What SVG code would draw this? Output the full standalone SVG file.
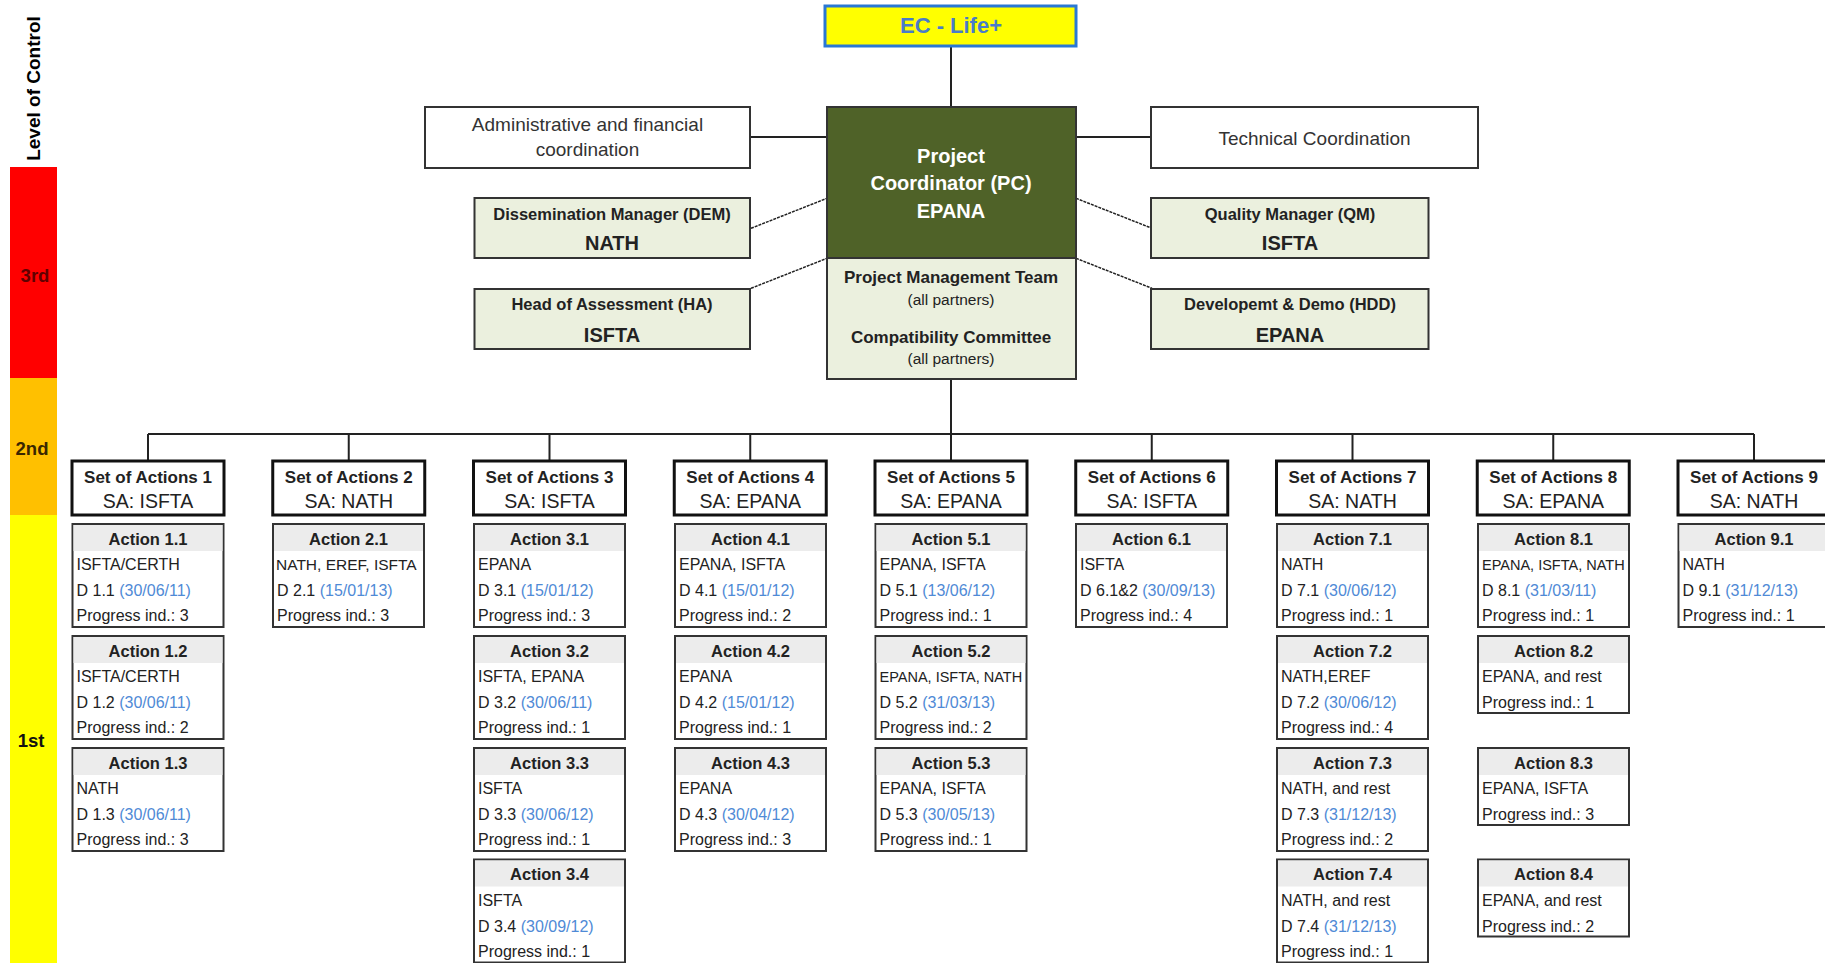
<svg xmlns="http://www.w3.org/2000/svg" width="1825" height="963" viewBox="0 0 1825 963">
<style>
text{font-family:"Liberation Sans",Arial,sans-serif;fill:#222}
.bx{fill:#fff;stroke:#333;stroke-width:2}
.gb{fill:#ebf0de;stroke:#333;stroke-width:2}
.sa{fill:#fff;stroke:#111;stroke-width:3}
.ab{fill:#fff;stroke:#333;stroke-width:2}
.ah{fill:#ececec}
.cn{stroke:#222;stroke-width:2;fill:none}
.dl{stroke:#222;stroke-width:1.5;stroke-dasharray:3 1;fill:none}
.at{font-size:16.5px;font-weight:bold;text-anchor:middle}
.al{font-size:16px}
.sm{font-size:14.5px}
.dt{fill:#4f8ad6}
.st{font-size:17px;font-weight:bold;text-anchor:middle}
.ss{font-size:19.5px;text-anchor:middle}
.tt{font-size:19px;text-anchor:middle;fill:#333}
.gt{font-size:16.5px;font-weight:bold;text-anchor:middle}
.gn{font-size:20px;font-weight:bold;text-anchor:middle}
.pc{font-size:20px;font-weight:bold;text-anchor:middle;fill:#fff}
.pm{font-size:17px;font-weight:bold;text-anchor:middle}
.pp{font-size:15.5px;text-anchor:middle}
.lv{font-size:18.5px;font-weight:bold;text-anchor:middle}
</style>
<g id="level-bar">
<text class="lv" transform="translate(40,88.5) rotate(-90)" style="font-size:19px;fill:#000">Level of Control</text>
<rect x="10" y="167" width="47" height="211" fill="#ff0000"/>
<rect x="10" y="378" width="47" height="137" fill="#ffc000"/>
<rect x="10" y="515" width="47" height="448" fill="#ffff00"/>
<text class="lv" x="35" y="281.7" style="fill:#600000">3rd</text>
<text class="lv" x="32" y="455" style="fill:#3a2600">2nd</text>
<text class="lv" x="31" y="746.7" style="fill:#111">1st</text>
</g>
<g id="connectors">
<line class="cn" x1="951" y1="46" x2="951" y2="107"/>
<line class="cn" x1="750" y1="137" x2="827" y2="137"/>
<line class="cn" x1="1076" y1="137" x2="1151" y2="137"/>
<line class="dl" x1="751" y1="228.3" x2="827" y2="198.3"/>
<line class="dl" x1="751" y1="288.3" x2="827" y2="258.3"/>
<line class="dl" x1="1076" y1="198.3" x2="1152" y2="228.3"/>
<line class="dl" x1="1076" y1="258.3" x2="1152" y2="288.3"/>
<line class="cn" x1="951" y1="379" x2="951" y2="434"/>
<line class="cn" x1="148" y1="434" x2="1754" y2="434"/>
<path class="cn" d="M148 434V461M348.75 434V461M549.5 434V461M750.25 434V461M951 434V461M1151.75 434V461M1352.5 434V461M1553.25 434V461M1754 434V461"/>
</g>
<g id="ec-life">
<rect x="825" y="6" width="251" height="40" fill="#ffff00" stroke="#2a78d4" stroke-width="3"/>
<text x="951" y="33.3" style="font-size:22px;font-weight:bold;text-anchor:middle;fill:#4a7cc8">EC - Life+</text>
</g>
<g id="admin">
<rect class="bx" x="425" y="107" width="325" height="61"/>
<text class="tt" x="587.5" y="131">Administrative and financial</text>
<text class="tt" x="587.5" y="156">coordination</text>
</g>
<g id="technical">
<rect class="bx" x="1151" y="107" width="327" height="61"/>
<text class="tt" x="1314.5" y="144.5">Technical Coordination</text>
</g>
<g id="pc">
<rect x="827" y="107" width="249" height="151" fill="#4f6228" stroke="#333" stroke-width="2"/>
<text class="pc" x="951" y="163">Project</text>
<text class="pc" x="951" y="190">Coordinator (PC)</text>
<text class="pc" x="951" y="218.3">EPANA</text>
</g>
<g id="pmt">
<rect class="gb" x="827" y="258" width="249" height="121"/>
<text class="pm" x="951" y="283.3">Project Management Team</text>
<text class="pp" x="951" y="305">(all partners)</text>
<text class="pm" x="951" y="342.7">Compatibility Committee</text>
<text class="pp" x="951" y="363.5">(all partners)</text>
</g>
<g id="dem">
<rect class="gb" x="474.5" y="198" width="275.5" height="60"/>
<text class="gt" x="612" y="220">Dissemination Manager (DEM)</text>
<text class="gn" x="612" y="250">NATH</text>
</g>
<g id="ha">
<rect class="gb" x="474.5" y="289" width="275.5" height="60"/>
<text class="gt" x="612" y="310">Head of Assessment (HA)</text>
<text class="gn" x="612" y="341.7">ISFTA</text>
</g>
<g id="qm">
<rect class="gb" x="1151" y="198" width="277.5" height="60"/>
<text class="gt" x="1290" y="220">Quality Manager (QM)</text>
<text class="gn" x="1290" y="250">ISFTA</text>
</g>
<g id="hdd">
<rect class="gb" x="1151" y="289" width="277.5" height="60"/>
<text class="gt" x="1290" y="310">Developemt &amp; Demo (HDD)</text>
<text class="gn" x="1290" y="341.7">EPANA</text>
</g>
<g id="sa1" transform="translate(72,461)"><rect class="sa" width="152" height="54"/><text class="st" x="76" y="22.3">Set of Actions 1</text><text class="ss" x="76" y="47.3">SA: ISFTA</text></g>
<g id="sa2" transform="translate(272.75,461)"><rect class="sa" width="152" height="54"/><text class="st" x="76" y="22.3">Set of Actions 2</text><text class="ss" x="76" y="47.3">SA: NATH</text></g>
<g id="sa3" transform="translate(473.5,461)"><rect class="sa" width="152" height="54"/><text class="st" x="76" y="22.3">Set of Actions 3</text><text class="ss" x="76" y="47.3">SA: ISFTA</text></g>
<g id="sa4" transform="translate(674.25,461)"><rect class="sa" width="152" height="54"/><text class="st" x="76" y="22.3">Set of Actions 4</text><text class="ss" x="76" y="47.3">SA: EPANA</text></g>
<g id="sa5" transform="translate(875,461)"><rect class="sa" width="152" height="54"/><text class="st" x="76" y="22.3">Set of Actions 5</text><text class="ss" x="76" y="47.3">SA: EPANA</text></g>
<g id="sa6" transform="translate(1075.75,461)"><rect class="sa" width="152" height="54"/><text class="st" x="76" y="22.3">Set of Actions 6</text><text class="ss" x="76" y="47.3">SA: ISFTA</text></g>
<g id="sa7" transform="translate(1276.5,461)"><rect class="sa" width="152" height="54"/><text class="st" x="76" y="22.3">Set of Actions 7</text><text class="ss" x="76" y="47.3">SA: NATH</text></g>
<g id="sa8" transform="translate(1477.25,461)"><rect class="sa" width="152" height="54"/><text class="st" x="76" y="22.3">Set of Actions 8</text><text class="ss" x="76" y="47.3">SA: EPANA</text></g>
<g id="sa9" transform="translate(1678,461)"><rect class="sa" width="152" height="54"/><text class="st" x="76" y="22.3">Set of Actions 9</text><text class="ss" x="76" y="47.3">SA: NATH</text></g>

<g id="a1-1" transform="translate(72.5,524)"><rect class="ab" width="151" height="103"/><rect class="ah" x="1" y="1" width="149" height="26"/><text class="at" x="75.5" y="20.7">Action 1.1</text><text class="al" x="4" y="46.4">ISFTA/CERTH</text><text class="al" x="4" y="72">D 1.1 <tspan class="dt">(30/06/11)</tspan></text><text class="al" x="4" y="97.4">Progress ind.: 3</text></g>
<g id="a1-2" transform="translate(72.5,636)"><rect class="ab" width="151" height="103"/><rect class="ah" x="1" y="1" width="149" height="26"/><text class="at" x="75.5" y="20.7">Action 1.2</text><text class="al" x="4" y="46.4">ISFTA/CERTH</text><text class="al" x="4" y="72">D 1.2 <tspan class="dt">(30/06/11)</tspan></text><text class="al" x="4" y="97.4">Progress ind.: 2</text></g>
<g id="a1-3" transform="translate(72.5,748)"><rect class="ab" width="151" height="103"/><rect class="ah" x="1" y="1" width="149" height="26"/><text class="at" x="75.5" y="20.7">Action 1.3</text><text class="al" x="4" y="46.4">NATH</text><text class="al" x="4" y="72">D 1.3 <tspan class="dt">(30/06/11)</tspan></text><text class="al" x="4" y="97.4">Progress ind.: 3</text></g>

<g id="a2-1" transform="translate(273,524)"><rect class="ab" width="151" height="103"/><rect class="ah" x="1" y="1" width="149" height="26"/><text class="at" x="75.5" y="20.7">Action 2.1</text><text class="al" x="3" y="46.4" style="font-size:15.5px">NATH, EREF, ISFTA</text><text class="al" x="4" y="72">D 2.1 <tspan class="dt">(15/01/13)</tspan></text><text class="al" x="4" y="97.4">Progress ind.: 3</text></g>

<g id="a3-1" transform="translate(474,524)"><rect class="ab" width="151" height="103"/><rect class="ah" x="1" y="1" width="149" height="26"/><text class="at" x="75.5" y="20.7">Action 3.1</text><text class="al" x="4" y="46.4">EPANA</text><text class="al" x="4" y="72">D 3.1 <tspan class="dt">(15/01/12)</tspan></text><text class="al" x="4" y="97.4">Progress ind.: 3</text></g>
<g id="a3-2" transform="translate(474,636)"><rect class="ab" width="151" height="103"/><rect class="ah" x="1" y="1" width="149" height="26"/><text class="at" x="75.5" y="20.7">Action 3.2</text><text class="al" x="4" y="46.4">ISFTA, EPANA</text><text class="al" x="4" y="72">D 3.2 <tspan class="dt">(30/06/11)</tspan></text><text class="al" x="4" y="97.4">Progress ind.: 1</text></g>
<g id="a3-3" transform="translate(474,748)"><rect class="ab" width="151" height="103"/><rect class="ah" x="1" y="1" width="149" height="26"/><text class="at" x="75.5" y="20.7">Action 3.3</text><text class="al" x="4" y="46.4">ISFTA</text><text class="al" x="4" y="72">D 3.3 <tspan class="dt">(30/06/12)</tspan></text><text class="al" x="4" y="97.4">Progress ind.: 1</text></g>
<g id="a3-4" transform="translate(474,859.5)"><rect class="ab" width="151" height="103"/><rect class="ah" x="1" y="1" width="149" height="26"/><text class="at" x="75.5" y="20.7">Action 3.4</text><text class="al" x="4" y="46.4">ISFTA</text><text class="al" x="4" y="72">D 3.4 <tspan class="dt">(30/09/12)</tspan></text><text class="al" x="4" y="97.4">Progress ind.: 1</text></g>

<g id="a4-1" transform="translate(675,524)"><rect class="ab" width="151" height="103"/><rect class="ah" x="1" y="1" width="149" height="26"/><text class="at" x="75.5" y="20.7">Action 4.1</text><text class="al" x="4" y="46.4">EPANA, ISFTA</text><text class="al" x="4" y="72">D 4.1 <tspan class="dt">(15/01/12)</tspan></text><text class="al" x="4" y="97.4">Progress ind.: 2</text></g>
<g id="a4-2" transform="translate(675,636)"><rect class="ab" width="151" height="103"/><rect class="ah" x="1" y="1" width="149" height="26"/><text class="at" x="75.5" y="20.7">Action 4.2</text><text class="al" x="4" y="46.4">EPANA</text><text class="al" x="4" y="72">D 4.2 <tspan class="dt">(15/01/12)</tspan></text><text class="al" x="4" y="97.4">Progress ind.: 1</text></g>
<g id="a4-3" transform="translate(675,748)"><rect class="ab" width="151" height="103"/><rect class="ah" x="1" y="1" width="149" height="26"/><text class="at" x="75.5" y="20.7">Action 4.3</text><text class="al" x="4" y="46.4">EPANA</text><text class="al" x="4" y="72">D 4.3 <tspan class="dt">(30/04/12)</tspan></text><text class="al" x="4" y="97.4">Progress ind.: 3</text></g>

<g id="a5-1" transform="translate(875.5,524)"><rect class="ab" width="151" height="103"/><rect class="ah" x="1" y="1" width="149" height="26"/><text class="at" x="75.5" y="20.7">Action 5.1</text><text class="al" x="4" y="46.4">EPANA, ISFTA</text><text class="al" x="4" y="72">D 5.1 <tspan class="dt">(13/06/12)</tspan></text><text class="al" x="4" y="97.4">Progress ind.: 1</text></g>
<g id="a5-2" transform="translate(875.5,636)"><rect class="ab" width="151" height="103"/><rect class="ah" x="1" y="1" width="149" height="26"/><text class="at" x="75.5" y="20.7">Action 5.2</text><text class="al sm" x="4" y="46.4">EPANA, ISFTA, NATH</text><text class="al" x="4" y="72">D 5.2 <tspan class="dt">(31/03/13)</tspan></text><text class="al" x="4" y="97.4">Progress ind.: 2</text></g>
<g id="a5-3" transform="translate(875.5,748)"><rect class="ab" width="151" height="103"/><rect class="ah" x="1" y="1" width="149" height="26"/><text class="at" x="75.5" y="20.7">Action 5.3</text><text class="al" x="4" y="46.4">EPANA, ISFTA</text><text class="al" x="4" y="72">D 5.3 <tspan class="dt">(30/05/13)</tspan></text><text class="al" x="4" y="97.4">Progress ind.: 1</text></g>

<g id="a6-1" transform="translate(1076,524)"><rect class="ab" width="151" height="103"/><rect class="ah" x="1" y="1" width="149" height="26"/><text class="at" x="75.5" y="20.7">Action 6.1</text><text class="al" x="4" y="46.4">ISFTA</text><text class="al" x="4" y="72">D 6.1&amp;2 <tspan class="dt">(30/09/13)</tspan></text><text class="al" x="4" y="97.4">Progress ind.: 4</text></g>

<g id="a7-1" transform="translate(1277,524)"><rect class="ab" width="151" height="103"/><rect class="ah" x="1" y="1" width="149" height="26"/><text class="at" x="75.5" y="20.7">Action 7.1</text><text class="al" x="4" y="46.4">NATH</text><text class="al" x="4" y="72">D 7.1 <tspan class="dt">(30/06/12)</tspan></text><text class="al" x="4" y="97.4">Progress ind.: 1</text></g>
<g id="a7-2" transform="translate(1277,636)"><rect class="ab" width="151" height="103"/><rect class="ah" x="1" y="1" width="149" height="26"/><text class="at" x="75.5" y="20.7">Action 7.2</text><text class="al" x="4" y="46.4">NATH,EREF</text><text class="al" x="4" y="72">D 7.2 <tspan class="dt">(30/06/12)</tspan></text><text class="al" x="4" y="97.4">Progress ind.: 4</text></g>
<g id="a7-3" transform="translate(1277,748)"><rect class="ab" width="151" height="103"/><rect class="ah" x="1" y="1" width="149" height="26"/><text class="at" x="75.5" y="20.7">Action 7.3</text><text class="al" x="4" y="46.4">NATH, and rest</text><text class="al" x="4" y="72">D 7.3 <tspan class="dt">(31/12/13)</tspan></text><text class="al" x="4" y="97.4">Progress ind.: 2</text></g>
<g id="a7-4" transform="translate(1277,859.5)"><rect class="ab" width="151" height="103"/><rect class="ah" x="1" y="1" width="149" height="26"/><text class="at" x="75.5" y="20.7">Action 7.4</text><text class="al" x="4" y="46.4">NATH, and rest</text><text class="al" x="4" y="72">D 7.4 <tspan class="dt">(31/12/13)</tspan></text><text class="al" x="4" y="97.4">Progress ind.: 1</text></g>

<g id="a8-1" transform="translate(1478,524)"><rect class="ab" width="151" height="103"/><rect class="ah" x="1" y="1" width="149" height="26"/><text class="at" x="75.5" y="20.7">Action 8.1</text><text class="al sm" x="4" y="46.4">EPANA, ISFTA, NATH</text><text class="al" x="4" y="72">D 8.1 <tspan class="dt">(31/03/11)</tspan></text><text class="al" x="4" y="97.4">Progress ind.: 1</text></g>
<g id="a8-2" transform="translate(1478,636)"><rect class="ab" width="151" height="77"/><rect class="ah" x="1" y="1" width="149" height="26"/><text class="at" x="75.5" y="20.7">Action 8.2</text><text class="al" x="4" y="46.4">EPANA, and rest</text><text class="al" x="4" y="72">Progress ind.: 1</text></g>
<g id="a8-3" transform="translate(1478,748)"><rect class="ab" width="151" height="77"/><rect class="ah" x="1" y="1" width="149" height="26"/><text class="at" x="75.5" y="20.7">Action 8.3</text><text class="al" x="4" y="46.4">EPANA, ISFTA</text><text class="al" x="4" y="72">Progress ind.: 3</text></g>
<g id="a8-4" transform="translate(1478,859.5)"><rect class="ab" width="151" height="77"/><rect class="ah" x="1" y="1" width="149" height="26"/><text class="at" x="75.5" y="20.7">Action 8.4</text><text class="al" x="4" y="46.4">EPANA, and rest</text><text class="al" x="4" y="72">Progress ind.: 2</text></g>

<g id="a9-1" transform="translate(1678.5,524)"><rect class="ab" width="151" height="103"/><rect class="ah" x="1" y="1" width="149" height="26"/><text class="at" x="75.5" y="20.7">Action 9.1</text><text class="al" x="4" y="46.4">NATH</text><text class="al" x="4" y="72">D 9.1 <tspan class="dt">(31/12/13)</tspan></text><text class="al" x="4" y="97.4">Progress ind.: 1</text></g>
</svg>
